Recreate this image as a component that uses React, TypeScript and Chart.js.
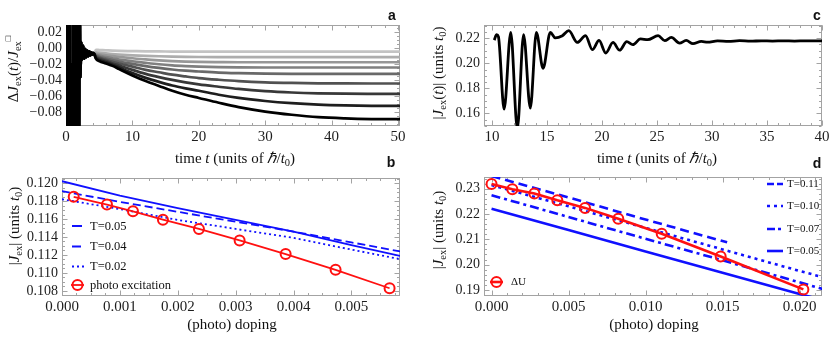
import React, { useEffect, useRef } from "react";
import { Chart, registerables } from "chart.js";
Chart.register(...registerables);

const SERIF = '"Liberation Serif", "Times New Roman", Times, serif';
const SANS = '"Liberation Sans", Arial, sans-serif';
const FRAME = "#a3a3a3";
const TICK_TXT = "#1e1e1e";
const BLUE = "#1010ff";
const RED = "#ff1010";
const X_TICK_SIZE = 15;
const Y_TICK_SIZE = 14;

// ---------------- panel a : ΔJex(t)/Jex vs time ----------------
const A_EARLY_T = [0, 0.12, 0.24, 0.36, 0.46, 0.56, 0.64, 0.84, 1.04, 1.12, 1.22, 1.32, 1.44, 1.56, 1.68, 1.8, 1.92, 2.05, 2.15, 2.3, 2.45, 2.6, 2.75, 2.9, 3.05, 3.2, 3.35, 3.5, 3.65, 3.8, 3.95, 4.1, 4.25];
const A_EARLY_V = [0, 0.35, -0.4, 0.3, -0.35, 0.25, -0.3, -0.02, -0.3, 0.3, -0.4, 0.35, -0.3, 0.3, -0.35, 0.25, -0.2, 0.06, -0.037, 0.008, -0.014, 0.003, -0.013, -0.001, -0.011, -0.003, -0.01, -0.004, -0.009, -0.005, -0.008, -0.006, -0.007];
const A_LATE_T = [4.5, 5, 6, 7, 8, 10, 12, 14, 16, 18, 20, 23, 26, 30, 34, 38, 42, 46, 50.3];
const A_S9 = [-0.013, -0.016, -0.019, -0.022, -0.026, -0.034, -0.041, -0.047, -0.053, -0.058, -0.062, -0.068, -0.0735, -0.079, -0.083, -0.086, -0.0875, -0.0883, -0.0885];
const A_S8 = [-0.012, -0.0145, -0.0175, -0.0205, -0.024, -0.031, -0.037, -0.042, -0.0465, -0.05, -0.053, -0.058, -0.062, -0.0658, -0.0685, -0.0703, -0.0713, -0.0718, -0.072];
const A_S7 = [-0.011, -0.013, -0.016, -0.019, -0.0215, -0.027, -0.032, -0.036, -0.0395, -0.0425, -0.045, -0.048, -0.0508, -0.0535, -0.0552, -0.0562, -0.0567, -0.0569, -0.057];
const A_S6 = [-0.01, -0.012, -0.0145, -0.017, -0.019, -0.023, -0.027, -0.03, -0.033, -0.0352, -0.0372, -0.0393, -0.041, -0.0425, -0.0433, -0.0437, -0.0439, -0.044, -0.044];
const A_S5 = [-0.009, -0.0105, -0.0128, -0.0148, -0.0165, -0.0195, -0.0222, -0.0245, -0.0265, -0.028, -0.029, -0.0303, -0.031, -0.0316, -0.0319, -0.032, -0.032, -0.032, -0.032];
const A_S4 = [-0.008, -0.009, -0.011, -0.0125, -0.014, -0.0162, -0.0182, -0.02, -0.0213, -0.0222, -0.0229, -0.0235, -0.0238, -0.024, -0.024, -0.024, -0.024, -0.024, -0.024];
const A_S3 = [-0.007, -0.0075, -0.0088, -0.0098, -0.0108, -0.0125, -0.014, -0.0151, -0.016, -0.0166, -0.017, -0.0173, -0.0175, -0.0175, -0.0175, -0.0175, -0.0175, -0.0175, -0.0175];
const A_S2 = [-0.005, -0.0055, -0.0064, -0.0072, -0.0078, -0.0088, -0.0095, -0.01, -0.0104, -0.0107, -0.0109, -0.011, -0.011, -0.011, -0.011, -0.011, -0.011, -0.011, -0.011];
const A_S1 = [-0.002, -0.0022, -0.0026, -0.003, -0.0033, -0.0036, -0.0039, -0.004, -0.0041, -0.0042, -0.0042, -0.0043, -0.0043, -0.0043, -0.0043, -0.0043, -0.0043, -0.0043, -0.0043];
const A_SERIES = [A_S9, A_S8, A_S7, A_S6, A_S5, A_S4, A_S3, A_S2, A_S1];
const A_COLORS = ["#000000", "#1e1e1e", "#383838", "#515151", "#696969", "#808080", "#979797", "#adadad", "#c3c3c3"];
const A_X_TICKS = [0, 10, 20, 30, 40, 50];
const A_Y_TICKS = [0.02, 0, -0.02, -0.04, -0.06, -0.08];

// ---------------- panel b : |Jex| vs (photo) doping ----------------
const B_LINE_X = [0, 0.001, 0.002, 0.003, 0.004, 0.005, 0.00584];
const B_T005 = [0.1202, 0.1186, 0.1172, 0.1159, 0.1146, 0.1131, 0.1119];
const B_T004 = [0.1191, 0.1179, 0.1168, 0.1157, 0.1146, 0.1134, 0.1124];
const B_T002 = [0.1182, 0.1171, 0.1159, 0.1149, 0.1139, 0.1126, 0.11154];
const B_PHOTO_X = [0.000202, 0.000777, 0.001226, 0.001744, 0.002366, 0.003069, 0.003864, 0.004727, 0.00566];
const B_PHOTO_Y = [0.11847, 0.11761, 0.11686, 0.11593, 0.11489, 0.11362, 0.1121, 0.11035, 0.1083];
const B_X_TICKS = [0, 0.001, 0.002, 0.003, 0.004, 0.005];
const B_Y_TICKS = [0.108, 0.11, 0.112, 0.114, 0.116, 0.118, 0.12];

// ---------------- panel c : |Jex(t)| vs time ----------------
const C_T = [10.2, 10.42, 10.58, 11.1, 11.7, 12.3, 12.87, 13.48, 14.03, 14.64, 15.3, 15.76, 16.4, 16.98, 17.75, 18.5, 19.12, 19.73, 20.34, 21.0, 21.6, 22.25, 22.8, 23.5, 24.15, 25.1, 25.7, 26.3, 27.05, 27.65, 28.27, 29.03, 29.6, 30.5, 31.5, 32.5, 33.5, 34.5, 35.5, 36.5, 37.5, 38.5, 40];
const C_V = [0.2185, 0.2228, 0.2212, 0.1634, 0.2246, 0.148, 0.2228, 0.1642, 0.2246, 0.196, 0.2246, 0.2202, 0.222, 0.226, 0.2166, 0.222, 0.2108, 0.2182, 0.2082, 0.2166, 0.2104, 0.2172, 0.2148, 0.2194, 0.2188, 0.222, 0.218, 0.2206, 0.216, 0.2182, 0.2156, 0.2174, 0.2168, 0.2178, 0.2174, 0.218, 0.2176, 0.2179, 0.2177, 0.2179, 0.2177, 0.2179, 0.2178];
const C_X_TICKS = [10, 15, 20, 25, 30, 35, 40];
const C_Y_TICKS = [0.16, 0.18, 0.2, 0.22];

// ---------------- panel d : |Jex| vs (photo) doping, ΔU ----------------
const D_T011_X = [0, 0.005, 0.01, 0.0153];
const D_T011 = [0.235, 0.2265, 0.2178, 0.2088];
const D_LINE_X = [0, 0.005, 0.01, 0.015, 0.02, 0.0216];
const D_T010 = [0.2314, 0.223, 0.2145, 0.206, 0.1975, 0.1949];
const D_T007 = [0.2274, 0.2188, 0.2102, 0.2017, 0.193, 0.1902];
const D_T005 = [0.2221, 0.2137, 0.2052, 0.1968, 0.1884, 0.1858];
const D_DU_X = [0, 0.00135, 0.00278, 0.00427, 0.00607, 0.00823, 0.01105, 0.01488, 0.02025];
const D_DU_Y = [0.2318, 0.2298, 0.2281, 0.2254, 0.2224, 0.2181, 0.2122, 0.2032, 0.1902];
const D_X_TICKS = [0, 0.005, 0.01, 0.015, 0.02];
const D_Y_TICKS = [0.19, 0.2, 0.21, 0.22, 0.23];

const zip = (xs: number[], ys: number[]) => xs.map((x, i) => ({ x, y: ys[i] }));
const fmt = (d: number) => (v: any) => {
  const n = Number(v);
  const s = Math.abs(n) < 1e-12 ? (0).toFixed(d) : n.toFixed(d);
  return s.replace("-", "\u2212");
};

const framePlugin = {
  id: "frame",
  beforeDatasetsDraw(chart: any, _a: any, o: any) {
    const { ctx, chartArea: a } = chart;
    const xs = chart.scales.x, ys = chart.scales.y;
    ctx.save();
    ctx.strokeStyle = FRAME;
    ctx.lineWidth = 1;
    const L = Math.round(a.left) + 0.5, R = Math.round(a.right) - 0.5;
    const T = Math.round(a.top) + 0.5, B = Math.round(a.bottom) - 0.5;
    ctx.strokeRect(L, T, R - L, B - T);
    const marks = (scale: any, step: number, len: number, horiz: boolean) => {
      const lo = Math.ceil(scale.min / step - 1e-6), hi = Math.floor(scale.max / step + 1e-6);
      ctx.beginPath();
      for (let i = lo; i <= hi; i++) {
        const p = Math.round(scale.getPixelForValue(i * step)) + 0.5;
        if (horiz) {
          ctx.moveTo(p, B); ctx.lineTo(p, B - len);
          ctx.moveTo(p, T); ctx.lineTo(p, T + len);
        } else {
          ctx.moveTo(L, p); ctx.lineTo(L + len, p);
          ctx.moveTo(R, p); ctx.lineTo(R - len, p);
        }
      }
      ctx.stroke();
    };
    marks(xs, o.xMinor, 2.5, true);
    marks(xs, o.xMajor, 5, true);
    marks(ys, o.yMinor, 2.5, false);
    marks(ys, o.yMajor, 5, false);
    ctx.restore();
  },
};

const legendPlugin = {
  id: "legendBox",
  afterDraw(chart: any, _a: any, o: any) {
    if (!o || !o.items) return;
    const ctx = chart.ctx;
    ctx.save();
    for (const it of o.items) {
      ctx.strokeStyle = it.color;
      ctx.lineWidth = it.width;
      ctx.setLineDash(it.dash || []);
      ctx.beginPath();
      ctx.moveTo(it.x0, it.y);
      ctx.lineTo(it.x1, it.y);
      ctx.stroke();
      ctx.setLineDash([]);
      if (it.circle) {
        ctx.lineWidth = 2;
        ctx.beginPath();
        ctx.arc((it.x0 + it.x1) / 2, it.y, it.circle, 0, Math.PI * 2);
        ctx.stroke();
      }
      ctx.fillStyle = "#111";
      ctx.font = `${o.size}px ${SERIF}`;
      ctx.textBaseline = "middle";
      ctx.textAlign = "left";
      ctx.fillText(it.label, it.tx, it.y + 0.5);
    }
    ctx.restore();
  },
};

function axisX(min: number, max: number, ticks: number[], f: (v: any) => string, height: number) {
  return {
    type: "linear", position: "bottom", min, max,
    grid: { display: false, drawTicks: false }, border: { display: false },
    ticks: { autoSkip: false, maxRotation: 0, padding: 2, color: TICK_TXT, font: { family: SERIF, size: X_TICK_SIZE }, callback: f },
    afterBuildTicks: (s: any) => { s.ticks = ticks.map((v) => ({ value: v })); },
    afterFit: (s: any) => { s.height = height; s.paddingLeft = 0; s.paddingRight = 0; s.paddingTop = 0; s.paddingBottom = 0; },
  };
}
function axisY(min: number, max: number, ticks: number[], f: (v: any) => string, width: number) {
  return {
    type: "linear", position: "left", min, max,
    grid: { display: false, drawTicks: false }, border: { display: false },
    ticks: { autoSkip: false, padding: 4, color: TICK_TXT, font: { family: SERIF, size: Y_TICK_SIZE }, callback: f },
    afterBuildTicks: (s: any) => { s.ticks = ticks.map((v) => ({ value: v })); },
    afterFit: (s: any) => { s.width = width; s.paddingLeft = 0; s.paddingRight = 0; s.paddingTop = 0; s.paddingBottom = 0; },
  };
}
function baseOptions(x: any, y: any, frame: any, legend: any, padding: any) {
  return {
    responsive: false, animation: false, devicePixelRatio: 1, events: [],
    layout: { padding },
    plugins: { legend: { display: false }, tooltip: { enabled: false }, frame, legendBox: legend },
    scales: { x, y },
    elements: { point: { radius: 0 } },
  };
}

function cfgA(): any {
  const datasets = A_SERIES.map((s, i) => ({
    data: zip(A_EARLY_T.concat(A_LATE_T), A_EARLY_V.concat(s)),
    borderColor: A_COLORS[i], borderWidth: 2.7, pointRadius: 0, cubicInterpolationMode: "monotone", clip: 0,
  }));
  return {
    type: "line", data: { datasets },
    options: baseOptions(
      axisX(0, 50.3, A_X_TICKS, fmt(0), 44),
      axisY(-0.097, 0.029, A_Y_TICKS, fmt(2), 66),
      { xMajor: 10, xMinor: 2, yMajor: 0.02, yMinor: 0.005 }, null,
      { left: 0, right: 15, top: 25, bottom: 0 }),
    plugins: [framePlugin, legendPlugin],
  };
}

function cfgB(): any {
  const datasets = [
    { data: zip(B_PHOTO_X, B_PHOTO_Y), borderColor: RED, borderWidth: 1.8, pointRadius: 5, pointBorderWidth: 2, pointBorderColor: RED, pointBackgroundColor: "rgba(0,0,0,0)", clip: 0 },
    { data: zip(B_LINE_X, B_T005), borderColor: BLUE, borderWidth: 1.8, pointRadius: 0, clip: 0 },
    { data: zip(B_LINE_X, B_T004), borderColor: BLUE, borderWidth: 1.8, borderDash: [8, 4], pointRadius: 0, clip: 0 },
    { data: zip(B_LINE_X, B_T002), borderColor: BLUE, borderWidth: 1.8, borderDash: [2, 3], pointRadius: 0, clip: 0 },
  ];
  const legend = {
    size: 12.5,
    items: [
      { label: "T=0.05", color: BLUE, width: 2, dash: [], x0: 72, x1: 82, y: 56, tx: 90 },
      { label: "T=0.04", color: BLUE, width: 2, dash: [9, 4], x0: 72, x1: 82, y: 76.5, tx: 90 },
      { label: "T=0.02", color: BLUE, width: 2, dash: [2, 3], x0: 72, x1: 84, y: 96.5, tx: 90 },
      { label: "photo excitation", color: RED, width: 1.8, dash: [], x0: 71, x1: 84, y: 115, tx: 90, circle: 5 },
    ],
  };
  return {
    type: "line", data: { datasets },
    options: baseOptions(
      axisX(0, 0.00584, B_X_TICKS, fmt(3), 43),
      axisY(0.10744, 0.12056, B_Y_TICKS, fmt(3), 62),
      { xMajor: 0.001, xMinor: 0.00025, yMajor: 0.002, yMinor: 0.0005 }, legend,
      { left: 0, right: 15, top: 8, bottom: 0 }),
    plugins: [framePlugin, legendPlugin],
  };
}

function cfgC(): any {
  const datasets = [
    { data: zip(C_T, C_V), borderColor: "#000", borderWidth: 2.8, pointRadius: 0, cubicInterpolationMode: "monotone", clip: 0 },
  ];
  return {
    type: "line", data: { datasets },
    options: baseOptions(
      axisX(9.27, 40, C_X_TICKS, fmt(0), 44),
      axisY(0.15, 0.2305, C_Y_TICKS, fmt(2), 69),
      { xMajor: 5, xMinor: 1, yMajor: 0.02, yMinor: 0.005 }, null,
      { left: 0, right: 8, top: 25, bottom: 0 }),
    plugins: [framePlugin, legendPlugin],
  };
}

function cfgD(): any {
  const datasets = [
    { data: zip(D_DU_X, D_DU_Y), borderColor: RED, borderWidth: 2.6, pointRadius: 5, pointBorderWidth: 2, pointBorderColor: RED, pointBackgroundColor: "rgba(0,0,0,0)", clip: 0 },
    { data: zip(D_T011_X, D_T011), borderColor: BLUE, borderWidth: 2.6, borderDash: [9, 5], pointRadius: 0, clip: 0 },
    { data: zip(D_LINE_X, D_T010), borderColor: BLUE, borderWidth: 2.6, borderDash: [3, 4], pointRadius: 0, clip: 0 },
    { data: zip(D_LINE_X, D_T007), borderColor: BLUE, borderWidth: 2.6, borderDash: [9, 4, 3, 4], pointRadius: 0, clip: 0 },
    { data: zip(D_LINE_X, D_T005), borderColor: BLUE, borderWidth: 2.6, pointRadius: 0, clip: 0 },
  ];
  const legend = {
    size: 11,
    items: [
      { label: "T=0.11", color: BLUE, width: 2.6, dash: [7, 3], x0: 352, x1: 368, y: 14, tx: 372 },
      { label: "T=0.10", color: BLUE, width: 2.6, dash: [3, 4], x0: 352, x1: 368, y: 36, tx: 372 },
      { label: "T=0.07", color: BLUE, width: 2.6, dash: [8, 3, 3, 3], x0: 352, x1: 368, y: 59, tx: 372 },
      { label: "T=0.05", color: BLUE, width: 2.6, dash: [], x0: 352, x1: 368, y: 81, tx: 372 },
      { label: "\u0394U", color: RED, width: 2.6, dash: [], x0: 75, x1: 88, y: 112, tx: 96, circle: 5 },
    ],
  };
  return {
    type: "line", data: { datasets },
    options: baseOptions(
      axisX(-0.00049, 0.02146, D_X_TICKS, fmt(3), 43),
      axisY(0.1876, 0.2346, D_Y_TICKS, fmt(2), 69),
      { xMajor: 0.005, xMinor: 0.001, yMajor: 0.01, yMinor: 0.002 }, legend,
      { left: 0, right: 8, top: 7, bottom: 0 }),
    plugins: [framePlugin, legendPlugin],
  };
}

const sub: React.CSSProperties = { fontSize: "70%", verticalAlign: "-0.3em", lineHeight: 0 };
const sup: React.CSSProperties = { fontSize: "60%", verticalAlign: "0.7em", lineHeight: 0 };

function XTitle({ cx, cy, children }: any) {
  return (
    <div style={{ position: "absolute", left: cx, top: cy, transform: "translate(-50%,-50%)", whiteSpace: "nowrap", fontFamily: SERIF, fontSize: 15, color: "#111", lineHeight: 1 }}>
      {children}
    </div>
  );
}
function YTitle({ cx, cy, children }: any) {
  return (
    <div style={{ position: "absolute", left: cx, top: cy, transform: "translate(-50%,-50%) rotate(-90deg)", whiteSpace: "nowrap", fontFamily: SERIF, fontSize: 15, color: "#111", lineHeight: 1 }}>
      {children}
    </div>
  );
}
function Letter({ x, y, t }: any) {
  return (
    <div style={{ position: "absolute", left: x, top: y, transform: "translate(-50%,-50%)", fontFamily: SANS, fontWeight: "bold", fontSize: 14, color: "#111", lineHeight: 1 }}>
      {t}
    </div>
  );
}

export default function App() {
  const ra = useRef<HTMLCanvasElement>(null);
  const rb = useRef<HTMLCanvasElement>(null);
  const rc = useRef<HTMLCanvasElement>(null);
  const rd = useRef<HTMLCanvasElement>(null);
  useEffect(() => {
    const charts = [
      new Chart(ra.current as HTMLCanvasElement, cfgA()),
      new Chart(rb.current as HTMLCanvasElement, cfgB()),
      new Chart(rc.current as HTMLCanvasElement, cfgC()),
      new Chart(rd.current as HTMLCanvasElement, cfgD()),
    ];
    return () => charts.forEach((c) => c.destroy());
  }, []);
  const cv = (l: number, t: number, w: number, h: number): React.CSSProperties => ({ position: "absolute", left: l, top: t, width: w, height: h });
  return (
    <div style={{ position: "fixed", left: 0, top: 0, width: 830, height: 339, background: "#fff", overflow: "hidden" }}>
      <canvas ref={ra} width={415} height={170} style={cv(0, 0, 415, 170)} />
      <canvas ref={rc} width={415} height={170} style={cv(415, 0, 415, 170)} />
      <canvas ref={rb} width={415} height={169} style={cv(0, 170, 415, 169)} />
      <canvas ref={rd} width={415} height={169} style={cv(415, 170, 415, 169)} />

      <XTitle cx={235} cy={158}>time <i>t</i> (units of <i>ℏ</i>/<i>t</i><span style={sub}>0</span>)</XTitle>
      <XTitle cx={657} cy={158}>time <i>t</i> (units of <i>ℏ</i>/<i>t</i><span style={sub}>0</span>)</XTitle>
      <XTitle cx={232} cy={324}>(photo) doping</XTitle>
      <XTitle cx={654} cy={324}>(photo) doping</XTitle>

      <YTitle cx={13} cy={69}>Δ<i>J</i><span style={sub}>ex</span>(<i>t</i>)/<i>J</i><span style={sub}>ex</span><span style={sup}>□</span></YTitle>
      <YTitle cx={14} cy={226}>|<i>J</i><span style={sub}>ex</span>| (units <i>t</i><span style={sub}>0</span>)</YTitle>
      <YTitle cx={438} cy={73}>|<i>J</i><span style={sub}>ex</span>(<i>t</i>)| (units <i>t</i><span style={sub}>0</span>)</YTitle>
      <YTitle cx={438} cy={230}>|<i>J</i><span style={sub}>ex</span>| (units <i>t</i><span style={sub}>0</span>)</YTitle>

      <Letter x={392} y={15} t="a" />
      <Letter x={391} y={162} t="b" />
      <Letter x={817} y={15} t="c" />
      <Letter x={817} y={163} t="d" />
    </div>
  );
}
